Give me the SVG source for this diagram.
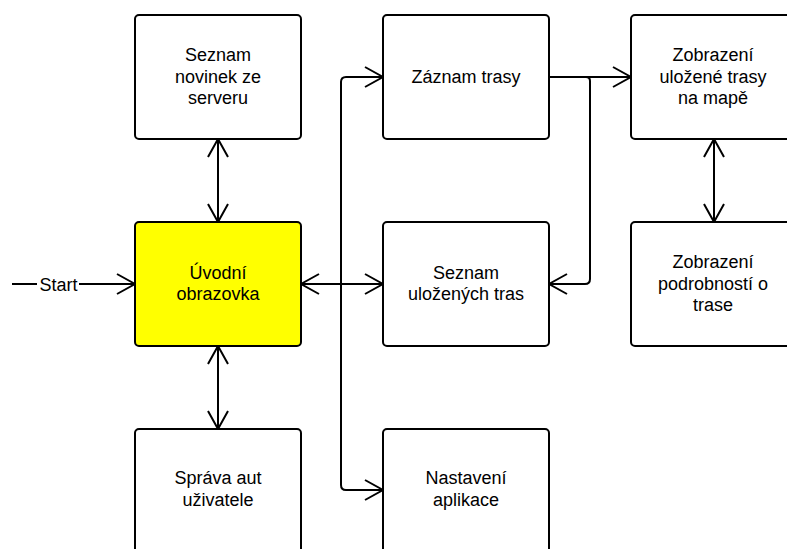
<svg xmlns="http://www.w3.org/2000/svg" width="787" height="549" viewBox="0 0 787 549">
<defs>
<style>
.box{fill:#ffffff;stroke:#000000;stroke-width:2}
.start{fill:#ffff00;stroke:#000000;stroke-width:2}
.lbl{font-family:"Liberation Sans",Arial,sans-serif;font-size:18px;fill:#000000;text-anchor:middle}
.edge{fill:none;stroke:#000000;stroke-width:2}
</style>
<marker id="arr" viewBox="-20 -12 22 24" refX="0" refY="0" markerWidth="22" markerHeight="24" markerUnits="userSpaceOnUse" orient="auto-start-reverse">
<path d="M-18,-10 L0,0 L-18,10" fill="none" stroke="#000000" stroke-width="2"/>
</marker>
</defs>
<rect width="787" height="549" fill="#ffffff"/>
<g id="connectors">
<path class="edge" d="M12,284 H135" marker-end="url(#arr)"/>
<rect x="37" y="274" width="42" height="22" fill="#ffffff"/>
<text class="lbl" x="58.5" y="291">Start</text>
<path class="edge" d="M218,139 V222" marker-start="url(#arr)" marker-end="url(#arr)"/>
<path class="edge" d="M218,346 V429" marker-start="url(#arr)" marker-end="url(#arr)"/>
<path class="edge" d="M714,139 V222" marker-start="url(#arr)" marker-end="url(#arr)"/>
<path class="edge" d="M301,284 H341" marker-start="url(#arr)"/>
<path class="edge" d="M341,284 V82 Q341,77 346,77 H383" marker-end="url(#arr)"/>
<path class="edge" d="M341,284 H383" marker-end="url(#arr)"/>
<path class="edge" d="M341,284 V485 Q341,490 346,490 H383" marker-end="url(#arr)"/>
<path class="edge" d="M549,77 H631" marker-end="url(#arr)"/>
<path class="edge" d="M586,77 Q590,77 590,81 V279 Q590,284 585,284 H549" marker-end="url(#arr)"/>
</g>
<g id="node-novinky">
<rect class="box" x="135" y="15" width="166" height="124" rx="4"/>
<text class="lbl" x="218" y="61">Seznam</text>
<text class="lbl" x="218" y="82.5">novinek ze</text>
<text class="lbl" x="218" y="104">serveru</text>
</g>
<g id="node-uvodni">
<rect class="start" x="135" y="222" width="166" height="124" rx="4"/>
<text class="lbl" x="218" y="278.5">Úvodní</text>
<text class="lbl" x="218" y="300">obrazovka</text>
</g>
<g id="node-sprava">
<rect class="box" x="135" y="429" width="166" height="124" rx="4"/>
<text class="lbl" x="218" y="483.5">Správa aut</text>
<text class="lbl" x="218" y="505.5">uživatele</text>
</g>
<g id="node-zaznam">
<rect class="box" x="383" y="15" width="166" height="124" rx="4"/>
<text class="lbl" x="466" y="82.5">Záznam trasy</text>
</g>
<g id="node-seznam-tras">
<rect class="box" x="383" y="222" width="166" height="124" rx="4"/>
<text class="lbl" x="466" y="278.5">Seznam</text>
<text class="lbl" x="466" y="300">uložených tras</text>
</g>
<g id="node-nastaveni">
<rect class="box" x="383" y="429" width="166" height="124" rx="4"/>
<text class="lbl" x="466" y="483.5">Nastavení</text>
<text class="lbl" x="466" y="505.5">aplikace</text>
</g>
<g id="node-mapa">
<rect class="box" x="631" y="15" width="166" height="124" rx="4"/>
<text class="lbl" x="713" y="61">Zobrazení</text>
<text class="lbl" x="713" y="82.5">uložené trasy</text>
<text class="lbl" x="713" y="104">na mapě</text>
</g>
<g id="node-podrobnosti">
<rect class="box" x="631" y="222" width="166" height="124" rx="4"/>
<text class="lbl" x="713" y="268">Zobrazení</text>
<text class="lbl" x="713" y="289.5">podrobností o</text>
<text class="lbl" x="713" y="311">trase</text>
</g>
</svg>
